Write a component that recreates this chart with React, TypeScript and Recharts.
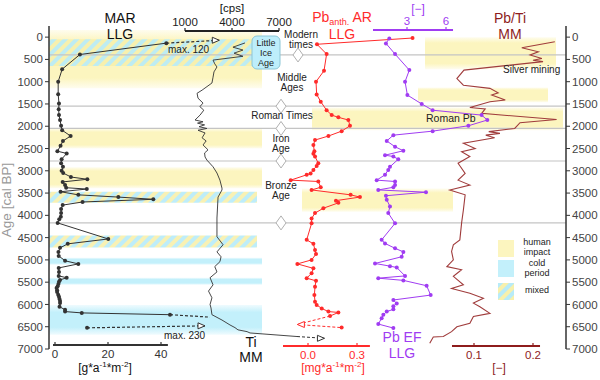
import { ComposedChart, Line, XAxis, YAxis, ReferenceArea, ReferenceLine, ReferenceDot } from 'recharts';

// ages in cal BP
const AGE_TICKS = [0, 500, 1000, 1500, 2000, 2500, 3000, 3500, 4000, 4500, 5000, 5500, 6000, 6500, 7000];

// MAR LLG [age, g*a-1*m-2]
const marLLG = [
  [135, 42.0], [390, 9.4], [720, 2.7], [1000, 1.2], [1280, 1.2], [1490, 1.5], [1620, 1.4], [1750, 1.5],
  [1860, 1.9], [1990, 2.3], [2090, 2.7], [2220, 5.9], [2330, 3.0], [2440, 2.1], [2560, 0.9], [2610, 4.4],
  [2740, 2.5], [2830, 2.3], [2910, 3.0], [3000, 2.5], [3050, 3.1], [3140, 6.0], [3190, 12.2], [3250, 2.9],
  [3320, 3.8], [3380, 4.2], [3410, 12.0], [3470, 2.1], [3540, 8.8], [3590, 23.9], [3640, 37.1], [3700, 10.4],
  [3770, 2.9], [3860, 2.3], [3950, 2.3], [4030, 2.2], [4090, 1.6], [4170, 1.0], [4530, 20.1], [4640, 4.8],
  [4730, 1.9], [4820, 1.3], [4910, 1.4], [5020, 3.8], [5090, 8.8], [5180, 1.4], [5270, 1.5], [5360, 1.4],
  [5400, 4.4], [5450, 1.9], [5490, 1.5], [5540, 1.3], [5590, 1.0], [5630, 0.6], [5680, 0.8], [5720, 0.8],
  [5780, 1.2], [5830, 1.5], [5880, 1.7], [5920, 1.9], [5970, 1.9], [6050, 1.7], [6120, 3.8], [6160, 3.8],
  [6190, 10.1], [6230, 43.4],
];
// off-scale parts (max. 120 / max. 230): [age, value, tip]
const marTopOff = [[135, 42.0, ''], [70, 62, '>']];
const marLowOut = [[6230, 43.4, ''], [6285, 58.5, '']];
const marLowBack = [[6480, 56.6, '>'], [6525, 12.1, 'o']];

// Ti MM [age, cps]
const tiMM = [
  [130, 4830], [225, 4060], [290, 4700], [360, 4130], [430, 4700], [515, 2790], [600, 2900], [670, 3040],
  [780, 2850], [900, 2790], [1030, 2720], [1190, 2090], [1260, 1770], [1370, 1830], [1480, 2150], [1560, 1950],
  [1640, 2200], [1750, 1960], [1860, 1640], [1900, 2150], [1930, 1800], [1970, 2250], [2010, 1900], [2050, 2400],
  [2090, 1830], [2150, 2280], [2260, 2090], [2330, 2350], [2420, 2150], [2530, 2470], [2600, 2250], [2690, 2280],
  [2760, 2400], [2910, 2790], [3050, 3040], [3210, 3230], [3390, 3360], [3430, 3360], [3590, 3110], [4060, 3040],
  [4480, 3040], [4660, 3430], [4820, 3040], [4930, 3300], [5040, 3230], [5150, 2900], [5270, 3040], [5400, 2600],
  [5560, 2790], [5700, 2500], [5850, 2720], [6000, 2600], [6080, 2660], [6230, 2720], [6350, 3360], [6460, 3870],
  [6520, 4190], [6570, 4380], [6610, 4960], [6640, 5150], [6720, 8150],
];
const tiOff = [[6720, 8150, ''], [6760, 9900, '>']];

// Pb anth. AR LLG [age, mg*a-1*m-2]
const pbAnthAR = [
  [20, 0.64], [160, 0.055], [380, 0.114], [755, 0.098], [1000, 0.049], [1285, 0.053], [1450, 0.078], [1640, 0.114],
  [1750, 0.145], [1800, 0.186], [1860, 0.247], [1990, 0.257], [2110, 0.206], [2220, 0.125], [2310, 0.043],
  [2420, 0.033], [2560, 0.039], [2620, 0.033], [2680, 0.043], [2830, 0.063], [2890, 0.053], [2980, 0.033],
  [3060, 0.016], [3090, -0.008], [3210, -0.106], [3240, 0.063], [3370, 0.078], [3430, 0.022], [3540, 0.261],
  [3590, 0.318], [3670, 0.171], [3720, 0.186], [3840, 0.094], [3950, 0.043], [4070, 0.022], [4180, 0.022],
  [4550, -0.008], [4640, 0.033], [4780, 0.043], [4870, 0.049], [5000, 0.022], [5090, -0.065], [5190, 0.033],
  [5300, 0.022], [5410, -0.008], [5470, 0.049], [5600, 0.043], [5790, 0.039], [5940, 0.043], [6010, 0.053],
  [6090, 0.084], [6160, 0.125], [6180, 0.186], [6260, 0.135],
];
const pbAnthOut = [[6260, 0.135, ''], [6450, -0.065, '<']];
const pbAnthBack = [[6450, -0.065, ''], [6520, 0.206, 'o']];

// Pb EF LLG [age, -]
const pbEF = [
  [30, 1.64], [140, 1.38], [380, 2.08], [740, 3.18], [1000, 2.85], [1300, 3.03], [1500, 4.13], [1640, 4.97],
  [1750, 8.74], [1860, 9.18], [1990, 7.72], [2110, 4.97], [2200, 1.95], [2330, 1.44], [2460, 2.08], [2550, 2.72],
  [2650, 1.31], [2680, 1.95], [2740, 2.33], [2910, 1.69], [2980, 1.56], [3090, 1.31], [3210, 0.67], [3240, 2.08],
  [3320, 2.08], [3370, 1.95], [3430, 0.79], [3480, 4.46], [3560, 1.38], [3650, 1.44], [3800, 1.69], [3950, 1.56],
  [4180, 2.08], [4550, 1.05], [4630, 1.31], [4740, 2.08], [4820, 2.72], [4930, 2.59], [5080, 0.54], [5140, 1.69],
  [5170, 2.21], [5360, 2.85], [5410, 0.79], [5460, 2.72], [5580, 4.51], [5790, 4.82], [5900, 1.95], [5980, 2.21],
  [6040, 1.95], [6110, 1.95], [6160, 1.44], [6230, 1.18], [6310, 1.05], [6440, 0.79], [6530, 1.95],
];

// Pb/Ti MM [age, -]
const pbTi = [
  [105, 0.237], [240, 0.181], [330, 0.209], [400, 0.195], [480, 0.215], [520, 0.2], [550, 0.217], [740, 0.083],
  [930, 0.071], [1080, 0.082], [1150, 0.127], [1250, 0.141], [1300, 0.13], [1410, 0.153], [1450, 0.127],
  [1580, 0.093], [1610, 0.119], [1710, 0.113], [1850, 0.24], [1920, 0.178], [2050, 0.169], [2120, 0.125],
  [2160, 0.144], [2200, 0.12], [2260, 0.135], [2380, 0.082], [2500, 0.102], [2570, 0.079], [2680, 0.093],
  [2830, 0.073], [3060, 0.085], [3210, 0.073], [3320, 0.093], [3430, 0.059], [3540, 0.085], [3880, 0.082],
  [4170, 0.079], [4550, 0.076], [4660, 0.065], [4810, 0.062], [5000, 0.065], [5150, 0.054], [5220, 0.079],
  [5370, 0.065], [5560, 0.082], [5640, 0.062], [5750, 0.093], [5860, 0.116], [5970, 0.099], [6050, 0.11],
  [6200, 0.127], [6270, 0.099], [6420, 0.093], [6500, 0.071], [6610, 0.062], [6720, 0.048], [6730, 0.031],
  [6870, 0.025],
];

// period boundaries (age) and background bands [ageFrom, ageTo, xFrom, xTo]
const eraLines = [400, 1550, 2050, 2780, 4170];
const eraMarks = [[400, 298], [1550, 281], [2050, 281], [2780, 281], [4170, 281]];
const humanBands = [
  [-160, 1150, 49, 262], [2050, 2500, 49, 262], [2920, 3390, 49, 262],
  [0, 720, 425, 556], [1130, 1460, 418, 548], [1580, 2090, 312, 563], [3400, 3920, 302, 453],
];
const mixedBands = [[50, 650, 49, 257], [3470, 3720, 49, 257], [4450, 4720, 49, 257]];
const coldBands = [[4950, 5110, 49, 262], [5400, 5560, 49, 262], [6010, 6680, 49, 262]];

const RED = '#ff2b2b';
const PURPLE = '#a03cf2';
const BROWN = '#8e1c1c';
const DARK = '#333';
const FONT = 'Arial, "Liberation Sans", sans-serif';

const PLOT_L = 49;
const PLOT_W = 517;
function domainFor(v0: number, px0: number, v1: number, px1: number): [number, number] {
  const k = (px1 - px0) / (v1 - v0);
  const lo = v0 - (px0 - PLOT_L) / k;
  return [lo, lo + PLOT_W / k];
}
const MAR_DOM = domainFor(0, 55, 40, 161);
const TI_DOM = domainFor(1000, 185, 7000, 279);
const PBA_DOM = domainFor(0, 308, 0.3, 357);
const EF_DOM = domainFor(3, 407, 6, 446);
const PBTI_DOM = domainFor(0.1, 474, 0.2, 533);

const panelAxes = [
  { id: 'mar', age: 6910, from: -0.75, to: 42.6, ticks: [0, 20, 40], labels: ['0', '20', '40'], color: DARK, top: false },
  { id: 'ti', age: -138, from: 1000, to: 7000, ticks: [1000, 4000, 7000], labels: ['1000', '4000', '7000'], color: '#222', top: true },
  { id: 'pba', age: 6930, from: -0.153, to: 0.379, ticks: [0, 0.3], labels: ['0.0', '0.3'], color: RED, top: false },
  { id: 'ef', age: -160, from: 0.385, to: 6.54, ticks: [3, 6], labels: ['3', '6'], color: PURPLE, top: true },
  { id: 'pbti', age: 6930, from: 0.0627, to: 0.2119, ticks: [0.1, 0.2], labels: ['0.1', '0.2'], color: BROWN, top: false },
];

const pts = (rows: number[][]) => rows.map(([age, v]) => ({ age, v }));
const tipPts = (rows: any[][]) => rows.map(([age, v, tip]) => ({ age, v, tip }));

const tipDot = (color: string) => (p: any) => {
  const { cx, cy, payload, index } = p;
  const key = `t${index}`;
  if (payload.tip === '>')
    return <polygon key={key} points={`${cx},${cy} ${cx - 7},${cy - 3} ${cx - 7},${cy + 3}`} fill="#fff" stroke={color} strokeWidth={1} />;
  if (payload.tip === '<')
    return <polygon key={key} points={`${cx},${cy} ${cx + 7},${cy - 3} ${cx + 7},${cy + 3}`} fill="#fff" stroke={color} strokeWidth={1} />;
  if (payload.tip === 'o') return <circle key={key} cx={cx} cy={cy} r={2} fill={color} />;
  return <g key={key} />;
};

const tickShape = (label: string, color: string, top: boolean) => (p: any) => (
  <g>
    <line x1={p.cx} x2={p.cx} y1={p.cy} y2={p.cy - 3} stroke={color} strokeWidth={1.2} />
    <text x={p.cx} y={top ? p.cy - 5 : p.cy + 13} textAnchor="middle" fontSize={11.5} fill={color} fontFamily={FONT}>
      {label}
    </text>
  </g>
);

const diamond = (p: any) => (
  <polygon
    points={`${p.cx},${p.cy - 7} ${p.cx + 5},${p.cy} ${p.cx},${p.cy + 7} ${p.cx - 5},${p.cy}`}
    fill="#fff"
    stroke="#b0b0b0"
    strokeWidth={1}
  />
);

function Overlay() {
  const t = { fontFamily: FONT, textAnchor: 'middle' as const };
  return (
    <svg width={600} height={380} style={{ position: 'absolute', left: 0, top: 0, pointerEvents: 'none' }}>
      <defs>
        <pattern id="hatchL" width="8" height="8" patternUnits="userSpaceOnUse" patternTransform="rotate(45)">
          <rect width="8" height="8" fill="#f7f0ac" />
          <rect width="4" height="8" fill="#b7ebf8" />
        </pattern>
      </defs>
      <text x={11} y={200} transform="rotate(-90 11 200)" fontSize={13.5} fill="#999" {...t}>Age [cal BP]</text>

      <text x={120} y={23} fontSize={14} fill="#111" {...t}>MAR</text>
      <text x={120} y={39} fontSize={14} fill="#111" {...t}>LLG</text>
      <text x={105} y={372} fontSize={12} fill="#111" {...t}>
        [g*a<tspan fontSize={8} dy={-5}>-1</tspan><tspan dy={5}>*m</tspan><tspan fontSize={8} dy={-5}>-2</tspan><tspan dy={5}>]</tspan>
      </text>

      <text x={232} y={12} fontSize={11.5} fill="#111" {...t}>[cps]</text>
      <text x={251} y={347} fontSize={14} fill="#111" {...t}>Ti</text>
      <text x={251} y={362} fontSize={14} fill="#111" {...t}>MM</text>

      <text x={342} y={22} fontSize={14} fill={RED} {...t}>
        Pb<tspan fontSize={9} dy={3}>anth.</tspan><tspan dy={-3}> AR</tspan>
      </text>
      <text x={342} y={39} fontSize={14} fill={RED} {...t}>LLG</text>
      <text x={333} y={372} fontSize={12} fill={RED} {...t}>
        [mg*a<tspan fontSize={8} dy={-5}>-1</tspan><tspan dy={5}>*m</tspan><tspan fontSize={8} dy={-5}>-2</tspan><tspan dy={5}>]</tspan>
      </text>

      <text x={418} y={13} fontSize={12} fill={PURPLE} {...t}>[−]</text>
      <text x={402} y={342} fontSize={14} fill={PURPLE} {...t}>Pb EF</text>
      <text x={402} y={358} fontSize={14} fill={PURPLE} {...t}>LLG</text>

      <text x={510} y={23} fontSize={14} fill={BROWN} {...t}>Pb/Ti</text>
      <text x={510} y={39} fontSize={14} fill={BROWN} {...t}>MM</text>
      <text x={499} y={372} fontSize={12} fill={BROWN} {...t}>[−]</text>

      <rect x={252} y={36} width={28} height={33} rx={5} fill="#bdeefb" stroke="#8cc6d6" />
      <text x={266} y={46} fontSize={9} fill="#222" {...t}>Little</text>
      <text x={266} y={56} fontSize={9} fill="#222" {...t}>Ice</text>
      <text x={266} y={66} fontSize={9} fill="#222" {...t}>Age</text>

      <text x={301} y={38} fontSize={10} fill="#222" {...t}>Modern</text>
      <text x={301} y={48} fontSize={10} fill="#222" {...t}>times</text>
      <text x={292} y={81} fontSize={10} fill="#222" {...t}>Middle</text>
      <text x={292} y={91} fontSize={10} fill="#222" {...t}>Ages</text>
      <text x={282} y={119} fontSize={10} fill="#222" {...t}>Roman Times</text>
      <text x={281} y={142} fontSize={10} fill="#222" {...t}>Iron</text>
      <text x={281} y={152} fontSize={10} fill="#222" {...t}>Age</text>
      <text x={281} y={189} fontSize={10} fill="#222" {...t}>Bronze</text>
      <text x={281} y={199} fontSize={10} fill="#222" {...t}>Age</text>

      <text x={168} y={53} fontSize={10} fill="#222" fontFamily={FONT}>max. 120</text>
      <text x={164} y={339} fontSize={10} fill="#222" fontFamily={FONT}>max. 230</text>
      <text x={503} y={73} fontSize={10} fill="#222" fontFamily={FONT}>Silver mining</text>
      <text x={426} y={122} fontSize={10.5} fill="#222" fontFamily={FONT}>Roman Pb</text>

      <rect x={498} y={240} width={16} height={17} fill="#fcf5bf" />
      <rect x={498} y={260} width={16} height={17} fill="#c3f0fb" />
      <rect x={498} y={283} width={16} height={17} fill="url(#hatchL)" />
      <text x={537} y={245} fontSize={9} fill="#222" {...t}>human</text>
      <text x={537} y={255} fontSize={9} fill="#222" {...t}>impact</text>
      <text x={537} y={266} fontSize={9} fill="#222" {...t}>cold</text>
      <text x={537} y={276} fontSize={9} fill="#222" {...t}>period</text>
      <text x={537} y={293} fontSize={9} fill="#222" {...t}>mixed</text>
    </svg>
  );
}

export default function App() {
  const axisTick = { fontSize: 11.5, fill: '#444', fontFamily: FONT };
  return (
    <div style={{ position: 'absolute', left: 0, top: 0, width: 600, height: 380, background: '#fff', fontFamily: FONT }}>
      <ComposedChart layout="vertical" width={600} height={380} margin={{ top: 26, right: 0, bottom: 31, left: 0 }}>
        <defs>
          <linearGradient id="yellowFade" x1="0" y1="0" x2="0" y2="1">
            <stop offset="0" stopColor="#fcf5bf" stopOpacity={0.25} />
            <stop offset="0.18" stopColor="#fcf5bf" stopOpacity={1} />
            <stop offset="0.82" stopColor="#fcf5bf" stopOpacity={1} />
            <stop offset="1" stopColor="#fcf5bf" stopOpacity={0.25} />
          </linearGradient>
          <linearGradient id="blueFade" x1="0" y1="0" x2="0" y2="1">
            <stop offset="0" stopColor="#c3f0fb" stopOpacity={0.25} />
            <stop offset="0.25" stopColor="#c3f0fb" stopOpacity={1} />
            <stop offset="0.75" stopColor="#c3f0fb" stopOpacity={1} />
            <stop offset="1" stopColor="#c3f0fb" stopOpacity={0.25} />
          </linearGradient>
          <pattern id="hatch" width="8" height="8" patternUnits="userSpaceOnUse" patternTransform="rotate(45)">
            <rect width="8" height="8" fill="#f7f0ac" />
            <rect width="4" height="8" fill="#b7ebf8" />
          </pattern>
        </defs>

        <XAxis xAxisId="px" type="number" hide domain={[49, 566]} allowDataOverflow />
        <XAxis xAxisId="mar" type="number" hide domain={MAR_DOM} allowDataOverflow />
        <XAxis xAxisId="ti" type="number" hide domain={TI_DOM} allowDataOverflow />
        <XAxis xAxisId="pba" type="number" hide domain={PBA_DOM} allowDataOverflow />
        <XAxis xAxisId="ef" type="number" hide domain={EF_DOM} allowDataOverflow />
        <XAxis xAxisId="pbti" type="number" hide domain={PBTI_DOM} allowDataOverflow />
        <YAxis
          yAxisId="age"
          dataKey="age"
          type="number"
          orientation="left"
          width={49}
          domain={[-250, 7000]}
          allowDataOverflow
          ticks={AGE_TICKS}
          interval={0}
          tick={axisTick}
          tickSize={4}
          tickLine={{ stroke: DARK }}
          axisLine={{ stroke: DARK, strokeWidth: 1.5 }}
        />
        <YAxis
          yAxisId="ageR"
          dataKey="age"
          type="number"
          orientation="right"
          width={34}
          domain={[-250, 7000]}
          allowDataOverflow
          ticks={AGE_TICKS}
          interval={0}
          tick={axisTick}
          tickSize={4}
          tickLine={{ stroke: DARK }}
          axisLine={{ stroke: DARK, strokeWidth: 1.5 }}
        />

        {humanBands.map(([a1, a2, x1, x2], i) => (
          <ReferenceArea key={`h${i}`} xAxisId="px" yAxisId="age" x1={x1} x2={x2} y1={a1} y2={a2} fill="url(#yellowFade)" fillOpacity={1} stroke="none" ifOverflow="hidden" />
        ))}
        {coldBands.map(([a1, a2, x1, x2], i) => (
          <ReferenceArea key={`c${i}`} xAxisId="px" yAxisId="age" x1={x1} x2={x2} y1={a1} y2={a2} fill="url(#blueFade)" fillOpacity={1} stroke="none" />
        ))}
        {mixedBands.map(([a1, a2, x1, x2], i) => (
          <ReferenceArea key={`m${i}`} xAxisId="px" yAxisId="age" x1={x1} x2={x2} y1={a1} y2={a2} fill="url(#hatch)" fillOpacity={0.9} stroke="none" />
        ))}
        {eraLines.map((a) => (
          <ReferenceLine key={`e${a}`} xAxisId="px" yAxisId="age" y={a} stroke="#c4c4c4" strokeWidth={1.2} />
        ))}
        {eraMarks.map(([a, x]) => (
          <ReferenceDot key={`d${a}`} xAxisId="px" yAxisId="age" x={x} y={a} r={0} shape={diamond} />
        ))}

        {panelAxes.map((ax) => (
          <ReferenceLine
            key={`ax${ax.id}`}
            xAxisId={ax.id}
            yAxisId="age"
            segment={[{ x: ax.from, y: ax.age }, { x: ax.to, y: ax.age }]}
            stroke={ax.color}
            strokeWidth={2}
            ifOverflow="visible"
          />
        ))}
        {panelAxes.flatMap((ax) =>
          ax.ticks.map((tv, i) => (
            <ReferenceDot
              key={`tk${ax.id}${i}`}
              xAxisId={ax.id}
              yAxisId="age"
              x={tv}
              y={ax.age}
              r={0}
              ifOverflow="visible"
              shape={tickShape(ax.labels[i], ax.color, ax.top)}
            />
          ))
        )}

        <Line xAxisId="ti" yAxisId="age" data={pts(tiMM)} dataKey="v" stroke="#333" strokeWidth={0.9} dot={false} isAnimationActive={false} />
        <Line xAxisId="ti" yAxisId="age" data={tipPts(tiOff)} dataKey="v" stroke="#333" strokeWidth={1} strokeDasharray="3 2" dot={tipDot('#333')} isAnimationActive={false} />

        <Line xAxisId="mar" yAxisId="age" data={pts(marLLG)} dataKey="v" stroke="#333" strokeWidth={1} dot={{ r: 2, fill: '#333', stroke: '#333', strokeWidth: 0 }} isAnimationActive={false} />
        <Line xAxisId="mar" yAxisId="age" data={tipPts(marTopOff)} dataKey="v" stroke="#333" strokeWidth={1.2} strokeDasharray="3 2" dot={tipDot('#333')} isAnimationActive={false} />
        <Line xAxisId="mar" yAxisId="age" data={tipPts(marLowOut)} dataKey="v" stroke="#333" strokeWidth={1.2} strokeDasharray="3 2" dot={tipDot('#333')} isAnimationActive={false} />
        <Line xAxisId="mar" yAxisId="age" data={tipPts(marLowBack)} dataKey="v" stroke="#333" strokeWidth={1.2} strokeDasharray="3 2" dot={tipDot('#333')} isAnimationActive={false} />

        <Line xAxisId="pba" yAxisId="age" data={pts(pbAnthAR)} dataKey="v" stroke={RED} strokeWidth={1} dot={{ r: 2, fill: RED, stroke: RED, strokeWidth: 0 }} isAnimationActive={false} />
        <Line xAxisId="pba" yAxisId="age" data={tipPts(pbAnthOut)} dataKey="v" stroke={RED} strokeWidth={1} strokeDasharray="3 2" dot={tipDot(RED)} isAnimationActive={false} />
        <Line xAxisId="pba" yAxisId="age" data={tipPts(pbAnthBack)} dataKey="v" stroke={RED} strokeWidth={1} strokeDasharray="3 2" dot={tipDot(RED)} isAnimationActive={false} />

        <Line xAxisId="ef" yAxisId="age" data={pts(pbEF)} dataKey="v" stroke={PURPLE} strokeWidth={1} dot={{ r: 2, fill: PURPLE, stroke: PURPLE, strokeWidth: 0 }} isAnimationActive={false} />

        <Line xAxisId="pbti" yAxisId="age" data={pts(pbTi)} dataKey="v" stroke="#a03c3c" strokeWidth={1.1} dot={false} isAnimationActive={false} />
      </ComposedChart>
      <Overlay />
    </div>
  );
}
